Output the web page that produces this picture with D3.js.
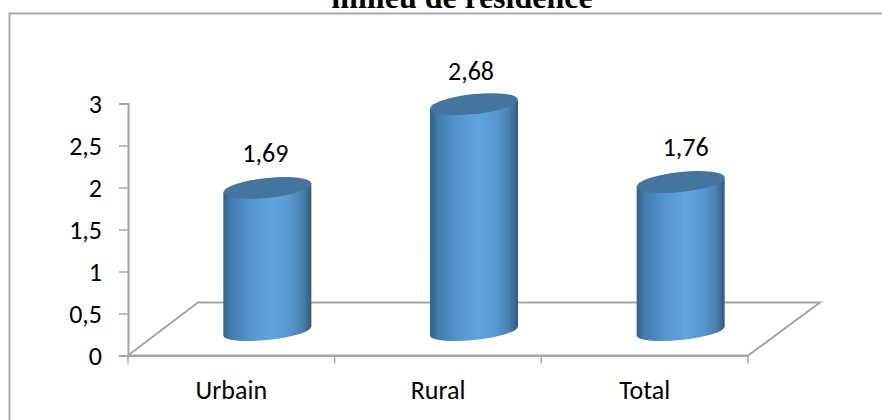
<!DOCTYPE html>
<html><head><meta charset="utf-8">
<script src="https://cdnjs.cloudflare.com/ajax/libs/d3/7.8.5/d3.min.js"></script>
<style>html,body{margin:0;padding:0;background:#fff}svg{display:block}</style></head>
<body><svg id="c" width="882" height="420"></svg>
<script>
const categories = ["Urbain","Rural","Total"];
const values = [1.69,2.68,1.76];
const valueLabels = ["1,69","2,68","1,76"];
const yTicks = [0,0.5,1,1.5,2,2.5,3];
const yTickLabels = ["0","0,5","1","1,5","2","2,5","3"];
const title = "milieu de résidence";

const svg = d3.select("#c");
const font = "Carlito, Lato, 'Open Sans', sans-serif";
const fs = 26;
const x = d3.scaleBand().domain(categories).range([128,748]);
const y = d3.scaleLinear().domain([0,3]).range([355.5,103.5]);
const h = d3.scaleLinear().domain([0,3]).range([0,254]);
const baseY = 331, depthX = 70, floorDy = 53;
const halfW = 44, ryTop = 10, ryBottom = 9, skew = -0.1;
const labelNudge = [[-2,-1],[-3,0.5],[5,-1]];

// frame
svg.append("path").attr("d","M9.5,420 V13.5 H882").attr("fill","none").attr("stroke","#a9a9a9").attr("stroke-width",2);

// title (cut by the top edge, as in the reference)
svg.append("text").attr("x",462).attr("y",7.5).attr("text-anchor","middle")
 .attr("font-family","'Liberation Serif',serif").attr("font-weight","bold").attr("font-size",32).attr("fill","#000").text(title);

// gradient
const g = svg.append("defs").append("linearGradient").attr("id","cyl").attr("x1",0).attr("x2",1).attr("y1",0).attr("y2",0);
[[0,"#33608a"],[0.1,"#437eb0"],[0.3,"#5393cb"],[0.55,"#5fa5e2"],[0.75,"#5898d0"],[0.9,"#4a80b0"],[1,"#34597c"]]
 .forEach(s=>g.append("stop").attr("offset",s[0]).attr("stop-color",s[1]));

// floor
svg.append("path").attr("fill","none").attr("stroke","#a6a6a6").attr("stroke-width",2)
 .attr("d",`M128,${y(0)} L${128+depthX},${y(0)-floorDy} H${748+depthX+2} L748,${y(0)} H128`);

// axes
const axisY = d3.axisLeft(y).tickValues(yTicks).tickFormat((d,i)=>yTickLabels[i]).tickSize(9).tickPadding(17);
const gy = svg.append("g").attr("transform","translate(128,0)").call(axisY);
const gx = svg.append("g").attr("transform",`translate(0,${y(0)})`).call(d3.axisBottom(x).tickSize(0));
gx.selectAll(".tick").remove();
const edges = categories.map(c=>x(c)).concat([x.range()[1]]);
gx.selectAll("line.e").data(edges).join("line").attr("class","e").attr("x1",d=>d).attr("x2",d=>d).attr("y1",0).attr("y2",8);
gx.append("g").selectAll("text").data(categories).join("text").attr("x",d=>x(d)+x.bandwidth()/2).attr("y",43)
 .attr("text-anchor","middle").attr("font-size",fs).attr("font-family",font).attr("fill","#000").text(d=>d);
[gy,gx].forEach(a=>{a.selectAll(".domain").attr("stroke","#a6a6a6").attr("stroke-width",2);a.selectAll("line").attr("stroke","#a6a6a6").attr("stroke-width",1.5);});
gy.selectAll("text").attr("font-size",fs).attr("font-family",font).attr("fill","#000").attr("dy","0.36em");

// cylinders
const cx = d => x(d)+x.bandwidth()/2+36;
const bars = svg.append("g").selectAll("g").data(categories).join("g")
 .attr("transform",d=>`matrix(1,${skew},0,1,${cx(d)},${baseY})`);
bars.append("path").attr("fill","url(#cyl)")
 .attr("d",(d,i)=>`M${-halfW},${-h(values[i])} V0 A${halfW},${ryBottom} 0 0 0 ${halfW},0 V${-h(values[i])} Z`);
bars.append("ellipse").attr("cx",0).attr("cy",(d,i)=>-h(values[i])).attr("rx",halfW).attr("ry",ryTop).attr("fill","#44759f");

// value labels
svg.append("g").selectAll("text").data(categories).join("text")
 .attr("x",(d,i)=>cx(d)+labelNudge[i][0]).attr("y",(d,i)=>baseY-h(values[i])-25+labelNudge[i][1])
 .attr("text-anchor","middle").attr("font-size",fs).attr("font-family",font).attr("fill","#000")
 .text((d,i)=>valueLabels[i]);
</script></body></html>
